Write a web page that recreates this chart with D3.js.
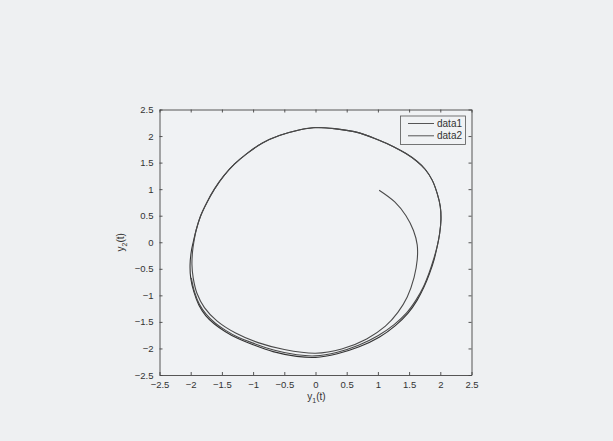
<!DOCTYPE html>
<html>
<head>
<meta charset="utf-8">
<script src="https://cdn.jsdelivr.net/npm/d3@7"></script>
<style>
  html, body { margin: 0; padding: 0; background: #eef0f2; }
  svg { display: block; }
  text { font-family: "Liberation Sans", Arial, sans-serif; fill: #333; }
</style>
</head>
<body>
<div id="chart"></div>
<script>
// tick values on both axes
var xTicks = [-2.5, -2, -1.5, -1, -0.5, 0, 0.5, 1, 1.5, 2, 2.5];
var yTicks = [-2.5, -2, -1.5, -1, -0.5, 0, 0.5, 1, 1.5, 2, 2.5];
var seriesNames = ["data1", "data2"];

// data1: limit cycle (y1, y2), clockwise from the top
var data1Y1 = [0, 0.3, 0.7, 1.0, 1.25, 1.45, 1.62, 1.76, 1.87, 1.95, 2.0, 2.01, 1.99, 1.95, 1.90, 1.83, 1.74, 1.63, 1.48, 1.28, 1.02, 0.70, 0.35, 0, -0.3, -0.68, -1.0, -1.25, -1.45, -1.62, -1.76, -1.87, -1.95, -2.0, -2.01, -1.99, -1.96, -1.91, -1.84, -1.74, -1.62, -1.47, -1.30, -1.10, -0.85, -0.58, -0.28, 0];
var data1Y2 = [2.16, 2.14, 2.06, 1.93, 1.80, 1.67, 1.53, 1.37, 1.17, 0.92, 0.67, 0.42, 0.17, -0.08, -0.33, -0.58, -0.84, -1.09, -1.34, -1.57, -1.79, -1.97, -2.10, -2.17, -2.15, -2.06, -1.93, -1.81, -1.68, -1.54, -1.38, -1.18, -0.93, -0.67, -0.42, -0.17, 0.0, 0.24, 0.50, 0.75, 1.00, 1.25, 1.47, 1.67, 1.87, 2.01, 2.11, 2.16];

// data2: trajectory from (1, 1) spiralling out onto the cycle
var data2Y1 = [1.02, 1.27, 1.45, 1.57, 1.63, 1.63, 1.58, 1.47, 1.32, 1.12, 0.82, 0.42, 0, -0.5, -0.92, -1.28, -1.58, -1.78, -1.90, -1.96, -1.98, -1.97, -1.95, -1.91, -1.84, -1.74, -1.62, -1.47, -1.30, -1.10, -0.85, -0.58, -0.28, 0, 0.3, 0.7, 1.0, 1.25, 1.45, 1.62, 1.76, 1.87, 1.95, 2.0, 2.01, 1.99, 1.95, 1.89, 1.82, 1.73, 1.61, 1.46, 1.26, 1.0, 0.69, 0.35, 0, -0.3, -0.67, -1.0, -1.24, -1.44, -1.61, -1.75, -1.86, -1.94, -1.99];
var data2Y2 = [0.98, 0.76, 0.50, 0.22, -0.05, -0.33, -0.66, -1.03, -1.32, -1.58, -1.82, -2.01, -2.09, -2.02, -1.89, -1.71, -1.48, -1.23, -0.96, -0.67, -0.42, -0.17, 0.0, 0.24, 0.50, 0.75, 1.00, 1.25, 1.47, 1.67, 1.87, 2.01, 2.11, 2.16, 2.14, 2.06, 1.93, 1.80, 1.67, 1.53, 1.37, 1.17, 0.92, 0.67, 0.42, 0.17, -0.08, -0.33, -0.58, -0.84, -1.09, -1.33, -1.55, -1.76, -1.94, -2.07, -2.14, -2.12, -2.03, -1.90, -1.79, -1.66, -1.52, -1.36, -1.17, -0.93, -0.67];

var width = 613, height = 441;
var pLeft = 159.5, pRight = 471.5, pTop = 109.5, pBottom = 375;

var svg = d3.select('#chart')
  .append('svg')
  .attr('width', width)
  .attr('height', height);

var x = d3.scaleLinear().domain([-2.5, 2.5]).range([pLeft, pRight]);
var y = d3.scaleLinear().domain([-2.5, 2.5]).range([pBottom, pTop]);
var fmt = d3.format("");
var tickLen = 3;

//axes background
svg.append('rect')
  .attr('x', pLeft).attr('y', pTop)
  .attr('width', pRight - pLeft).attr('height', pBottom - pTop)
  .attr('fill', '#f0f2f4');

//bottom and left axes with labels, ticks pointing inside
var xAxis = svg.append('g')
  .attr('transform', 'translate(0,' + pBottom + ')')
  .call(d3.axisBottom(x).tickValues(xTicks).tickFormat(fmt).tickSizeInner(-tickLen).tickSizeOuter(0).tickPadding(6));
var yAxis = svg.append('g')
  .attr('transform', 'translate(' + pLeft + ',0)')
  .call(d3.axisLeft(y).tickValues(yTicks).tickFormat(fmt).tickSizeInner(-tickLen).tickSizeOuter(0).tickPadding(6));
//top and right axes, ticks only
var xTop = svg.append('g')
  .attr('transform', 'translate(0,' + pTop + ')')
  .call(d3.axisTop(x).tickValues(xTicks).tickFormat('').tickSizeInner(-tickLen).tickSizeOuter(0));
var yRight = svg.append('g')
  .attr('transform', 'translate(' + pRight + ',0)')
  .call(d3.axisRight(y).tickValues(yTicks).tickFormat('').tickSizeInner(-tickLen).tickSizeOuter(0));

[xAxis, yAxis, xTop, yRight].forEach(function (a) {
  a.selectAll('path').attr('stroke', '#444').attr('stroke-width', 0.9);
  a.selectAll('line').attr('stroke', '#444').attr('stroke-width', 0.9);
  a.selectAll('text').style('font-size', '9.5px').attr('fill', '#333');
});

//lines
var line = d3.line()
  .x(function (d) { return x(d[0]); })
  .y(function (d) { return y(d[1]); })
  .curve(d3.curveCatmullRom.alpha(0.5));

var series = [
  d3.zip(data1Y1, data1Y2),
  d3.zip(data2Y1, data2Y2)
];
var lineColors = ['#333', '#4a4a4a'];

svg.append('g').selectAll('path')
  .data(series)
  .enter().append('path')
  .attr('d', line)
  .attr('fill', 'none')
  .attr('stroke', function (d, i) { return lineColors[i]; })
  .attr('stroke-width', 1.1);

//legend
var lg = svg.append('g');
lg.append('rect')
  .attr('x', 400.5).attr('y', 116)
  .attr('width', 65).attr('height', 28.5)
  .attr('fill', '#f0f2f4')
  .attr('stroke', '#555').attr('stroke-width', 0.8);
seriesNames.forEach(function (name, i) {
  var ly = 123.5 + i * 12.3;
  lg.append('line')
    .attr('x1', 408).attr('x2', 434)
    .attr('y1', ly).attr('y2', ly)
    .attr('stroke', '#555').attr('stroke-width', 1);
  lg.append('text')
    .attr('x', 437).attr('y', ly + 3.5)
    .style('font-size', '10px')
    .text(name);
});

//axis labels
var xl = svg.append('text')
  .attr('x', (pLeft + pRight) / 2 + 1)
  .attr('y', 400)
  .attr('text-anchor', 'middle')
  .style('font-size', '10px');
xl.append('tspan').text('y');
xl.append('tspan').attr('dy', 2.5).style('font-size', '7px').text('1');
xl.append('tspan').attr('dy', -2.5).text('(t)');

var yl = svg.append('text')
  .attr('transform', 'translate(124,' + ((pTop + pBottom) / 2) + ') rotate(-90)')
  .attr('text-anchor', 'middle')
  .style('font-size', '10px');
yl.append('tspan').text('y');
yl.append('tspan').attr('dy', 2.5).style('font-size', '7px').text('2');
yl.append('tspan').attr('dy', -2.5).text('(t)');
</script>
</body>
</html>
